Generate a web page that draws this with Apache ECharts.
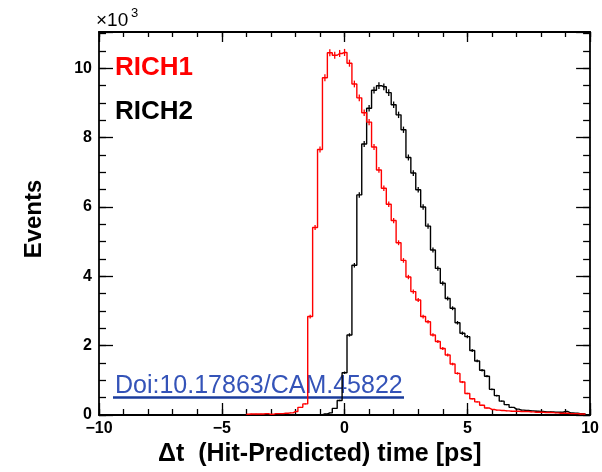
<!DOCTYPE html>
<html><head><meta charset="utf-8">
<script src="https://cdn.jsdelivr.net/npm/echarts@6/dist/echarts.min.js"></script>
<style>html,body{margin:0;padding:0;background:#fff}#c{width:602px;height:472px}</style>
</head><body><div id="c"></div>
<script>
// ---- data (counts in units of 10^3 per 0.2 ps bin) ----
const binWidth = 0.2;
const rich1Start = -4.0;   // centre of first RICH1 bin
const rich1Values = [
  0.02,0.03,0.03,0.03,0.04,0.02,0.04,0.04,0.05,0.06,
  0.10,0.22,0.32,2.84,5.41,7.66,9.73,10.45,10.38,10.43,
  10.46,10.15,9.55,9.15,8.72,8.45,7.73,7.07,6.54,6.08,
  5.61,4.97,4.46,3.98,3.56,3.32,2.84,2.69,2.31,2.12,
  1.92,1.73,1.47,1.20,0.95,0.62,0.47,0.38,0.28,0.20,
  0.16,0.14,0.13,0.12,0.11,0.11,0.10,0.10,0.09,0.08,
  0.08,0.07,0.07,0.06,0.05,0.05,0.04,0.04,0.03,0.03
];
const rich2Start = -1.0;   // centre of first RICH2 bin
const rich2Values = [
  0.01,0.03,0.06,0.19,0.42,
  1.22,2.31,4.32,6.35,7.82,8.85,9.37,9.50,9.47,9.30,
  8.95,8.66,8.23,7.43,6.98,6.50,6.00,5.45,4.76,4.23,
  3.80,3.36,3.08,2.66,2.36,2.26,1.86,1.56,1.29,1.12,
  0.74,0.56,0.40,0.30,0.22,0.17,0.14,0.13,0.12,0.11,
  0.10,0.09,0.09,0.08,0.08,0.10,0.06,0.05,0.04,0.03
];
const seriesNames = ['RICH1', 'RICH2'];
const xTickLabels = ['\u221210', '\u22125', '0', '5', '10'];
const yTickLabels = ['0', '2', '4', '6', '8', '10'];
const xRange = [-10, 10];
const yRange = [0, 11.05];

function toPoints(start, vals) {
  return vals.map((v, i) => [+(start + i * binWidth).toFixed(2), v]);
}
const rich1Data = toPoints(rich1Start, rich1Values);
const rich2Data = toPoints(rich2Start, rich2Values);

const FONT = 'Liberation Sans, Arial, Helvetica, sans-serif';

function xAxisDef(pos, interval, len, showLabel, showLine) {
  return {
    type: 'value', position: pos, min: xRange[0], max: xRange[1], interval: interval,
    axisLine: { show: showLine, onZero: false, lineStyle: { color: '#000', width: 1.8 } },
    axisTick: { show: true, inside: true, length: len, lineStyle: { color: '#000', width: 1.3 } },
    axisLabel: {
      show: showLabel, margin: 6, color: '#000', fontFamily: FONT, fontWeight: 'bold', fontSize: 16,
      formatter: v => { const i = Math.round((v - xRange[0]) / 5); return Math.abs(v - (xRange[0] + 5 * i)) < 1e-6 ? xTickLabels[i] : ''; }
    },
    splitLine: { show: false }
  };
}
function yAxisDef(pos, interval, len, showLabel, showLine) {
  return {
    type: 'value', position: pos, min: yRange[0], max: yRange[1], interval: interval,
    axisLine: { show: showLine, onZero: false, lineStyle: { color: '#000', width: 1.8 } },
    axisTick: { show: true, inside: true, length: len, lineStyle: { color: '#000', width: 1.3 } },
    axisLabel: {
      show: showLabel, margin: 7, color: '#000', fontFamily: FONT, fontWeight: 'bold', fontSize: 16,
      formatter: v => { const i = Math.round(v / 2); return Math.abs(v - 2 * i) < 1e-6 && i < yTickLabels.length ? yTickLabels[i] : ''; }
    },
    splitLine: { show: false }
  };
}

function errorSeries(data, color) {
  return {
    type: 'custom', xAxisIndex: 0, yAxisIndex: 0, data: data, z: 3, silent: true,
    renderItem: (params, api) => {
      const x = api.value(0), v = api.value(1);
      const e = Math.sqrt(v * 1000) / 1000;
      const p1 = api.coord([x, v - e]), p2 = api.coord([x, v + e]);
      return { type: 'line', shape: { x1: p1[0], y1: p1[1], x2: p2[0], y2: p2[1] },
               style: { stroke: color, lineWidth: 1.3 } };
    }
  };
}

const chart = echarts.init(document.getElementById('c'), null, { renderer: 'canvas' });
chart.setOption({
  animation: false,
  backgroundColor: '#fff',
  grid: { left: 99, right: 7, top: 32, bottom: 57, containLabel: false },
  xAxis: [
    xAxisDef('bottom', 5, 12, true, true),
    xAxisDef('bottom', 1, 6, false, false),
    xAxisDef('top', 5, 10, false, true),
    xAxisDef('top', 1, 5, false, false)
  ],
  yAxis: [
    yAxisDef('left', 2, 14, true, true),
    yAxisDef('left', 0.5, 7, false, false),
    yAxisDef('right', 2, 14, false, true),
    yAxisDef('right', 0.5, 7, false, false)
  ],
  series: [
    { name: seriesNames[1], type: 'line', step: 'middle', data: rich2Data, showSymbol: false,
      xAxisIndex: 0, yAxisIndex: 0, lineStyle: { color: '#000', width: 1.4 }, z: 2 },
    errorSeries(rich2Data, '#000'),
    { name: seriesNames[0], type: 'line', step: 'middle', data: rich1Data, showSymbol: false,
      xAxisIndex: 0, yAxisIndex: 0, lineStyle: { color: '#ff0000', width: 1.4 }, z: 4 },
    errorSeries(rich1Data, '#ff0000')
  ],
  graphic: [
    { type: 'text', x: 96, y: 21, style: { text: '\u00d710', font: '19px ' + FONT, fill: '#000', verticalAlign: 'middle', align: 'left' } },
    { type: 'text', x: 131, y: 13, style: { text: '3', font: '13px ' + FONT, fill: '#000', verticalAlign: 'middle', align: 'left' } },
    { type: 'text', x: 115, y: 68, style: { text: seriesNames[0], font: 'bold 26px ' + FONT, fill: '#ff0000', verticalAlign: 'middle', align: 'left' } },
    { type: 'text', x: 115, y: 112, style: { text: seriesNames[1], font: 'bold 26px ' + FONT, fill: '#000', verticalAlign: 'middle', align: 'left' } },
    { type: 'text', x: 115, y: 386, style: { text: 'Doi:10.17863/CAM.45822', font: '25px ' + FONT, fill: '#3453b8', verticalAlign: 'middle', align: 'left' } },
    { type: 'line', shape: { x1: 113, y1: 397.5, x2: 404, y2: 397.5 }, style: { stroke: '#1a3c9c', lineWidth: 2.5 } },
    { type: 'text', x: 34, y: 219, rotation: Math.PI / 2, style: { text: 'Events', font: 'bold 24px ' + FONT, fill: '#000', verticalAlign: 'middle', align: 'center' } },
    { type: 'text', x: 158, y: 454, style: { text: '\u0394t  (Hit-Predicted) time [ps]', font: 'bold 25px ' + FONT, fill: '#000', verticalAlign: 'middle', align: 'left' } }
  ]
});
</script>
</body></html>
